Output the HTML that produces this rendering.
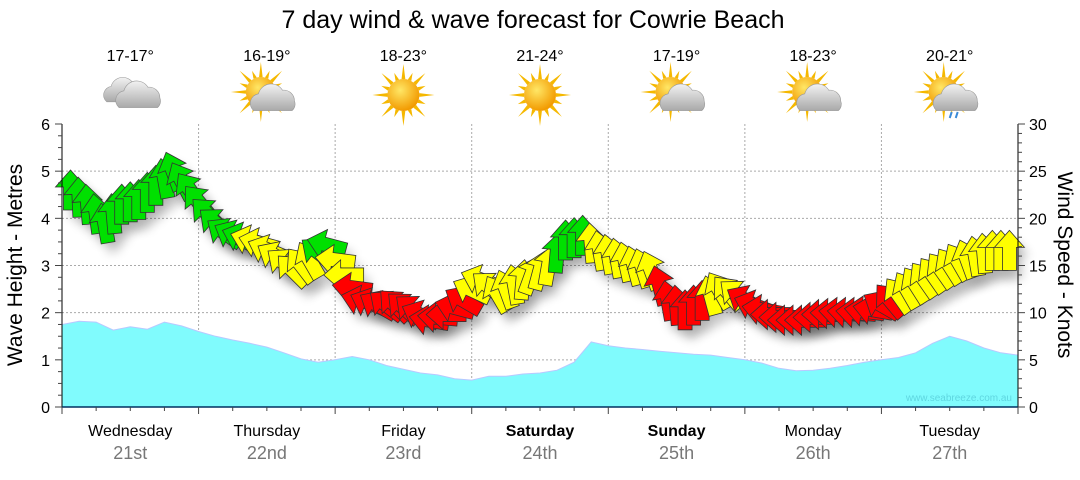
<!DOCTYPE html>
<html><head><meta charset="utf-8"><style>
body{margin:0;background:#fff;}
svg text{font-family:"Liberation Sans","DejaVu Sans",sans-serif;}
</style></head><body>
<svg id="c" width="1080" height="475" xmlns="http://www.w3.org/2000/svg">
<defs>
<radialGradient id="sun" cx="40%" cy="35%" r="65%"><stop offset="0" stop-color="#ffe766"/><stop offset="1" stop-color="#f29a00"/></radialGradient>
<linearGradient id="cloud" x1="0" y1="0" x2="0" y2="1"><stop offset="0" stop-color="#f2f2f2"/><stop offset="1" stop-color="#a9a9a9"/></linearGradient>
<filter id="sh" x="-50%" y="-50%" width="200%" height="200%"><feGaussianBlur stdDeviation="5"/></filter>
</defs>
<text x="533" y="28" font-size="25" text-anchor="middle" fill="#000">7 day wind &amp; wave forecast for Cowrie Beach</text>
<g id="grid"></g>
<g id="wave"></g>
<g id="shadows"></g>
<g id="arrows"></g>
<g id="axes"></g>
<g id="icons"></g>
<text x="1012" y="401" font-size="10" text-anchor="end" fill="#5fd6e0">www.seabreeze.com.au</text>
<text transform="translate(22,265) rotate(-90)" font-size="21" text-anchor="middle">Wave Height - Metres</text>
<text transform="translate(1058,265) rotate(90)" font-size="21" text-anchor="middle">Wind Speed - Knots</text>
</svg>
<script>
const days=["Wednesday","Thursday","Friday","Saturday","Sunday","Monday","Tuesday"];
const dates=["21st","22nd","23rd","24th","25th","26th","27th"];
const temps=["17-17°","16-19°","18-23°","21-24°","17-19°","18-23°","20-21°"];
const icons=["cloud","partly","sun","sun","partly","partly","rain"];
const waveHeights=[1.75,1.82,1.8,1.63,1.7,1.65,1.8,1.72,1.6,1.5,1.42,1.35,1.27,1.15,1.02,0.95,1.0,1.07,1.0,0.88,0.8,0.72,0.68,0.6,0.57,0.65,0.65,0.7,0.72,0.78,0.95,1.38,1.3,1.25,1.22,1.18,1.15,1.12,1.1,1.05,1.0,0.93,0.82,0.77,0.78,0.82,0.88,0.95,1.0,1.05,1.15,1.35,1.5,1.4,1.25,1.15,1.1];
const windSpeeds=[23,21.5,19.5,21.5,22,23.5,25,23,20.5,18.5,18,17.4,16,14.5,15.6,17.2,14,11.3,10.8,10.8,10.3,9.2,9.8,11.3,13.5,12,13,14,15,17.7,18.2,16.6,15.8,15,14.5,11.3,10.3,11.3,12.4,11.9,10.8,9.8,9.2,9.2,9.8,10,10,10.3,11.3,12.4,13.5,14.5,15.4,16,16.6,16.6];
const windAngles=[0,-5,-10,0,0,0,-20,-35,-45,-55,-70,-75,-60,-45,-30,-75,-90,-75,-60,-45,-50,-80,-90,-60,-70,-30,-10,20,10,0,0,-10,-10,-15,-20,-10,0,0,-30,-50,-70,-90,-90,-90,-90,-85,-85,-80,-40,-30,-35,-35,-30,-10,0,0];
const windColors=["g","g","g","g","g","g","g","g","g","g","g","y","y","y","y","g","y","r","r","r","r","r","r","r","y","y","y","y","y","g","g","y","y","y","y","r","r","r","y","y","r","r","r","r","r","r","r","r","r","y","y","y","y","y","y","y"];
const waveTicks=[0,1,2,3,4,5,6];
const windTicks=[0,5,10,15,20,25,30];

const X0=62,X1=1018,Y0=407,Y1=124,NS="http://www.w3.org/2000/svg";
const dayW=(X1-X0)/7;
const xT=t=>X0+t*(X1-X0)/56;
const yW=m=>Y0-m*(Y0-Y1)/6;
const yK=k=>Y0-k*(Y0-Y1)/30;
function el(tag,attrs,parent){const e=document.createElementNS(NS,tag);for(const k in attrs)e.setAttribute(k,attrs[k]);parent.appendChild(e);return e;}
const grid=document.getElementById('grid'),axes=document.getElementById('axes');
waveTicks.forEach(v=>{if(v>0&&v<6){const l=el('line',{x1:X0,x2:X1,y1:yW(v),y2:yW(v),stroke:'#aaa','stroke-dasharray':'2,2'},grid);

}});
for(let d=1;d<7;d++){const l=el('line',{x1:X0+d*dayW,x2:X0+d*dayW,y1:Y1,y2:Y0,stroke:'#aaa','stroke-dasharray':'2,2'},grid);

}
let d='M'+xT(0)+','+Y0;
waveHeights.forEach((v,i)=>{d+=' L'+xT(i).toFixed(1)+','+yW(v).toFixed(1);});
d+=' L'+xT(56)+','+Y0+' Z';
const wa=el('path',{d:d,fill:'#80fbfd',stroke:'#b8c8ff','stroke-width':1},document.getElementById('wave'));


const colMap={g:'#00e000',y:'#ffff00',r:'#ff0000'};
const ap='M0,-20 L15,-3 L7,-3 L7,20 L-7,20 L-7,-3 L-15,-3 Z';
const sg=document.getElementById('shadows'),ag=document.getElementById('arrows');
function drawArrow(cx,cy,ang,col){
  const s=el('path',{d:ap,fill:'#000',opacity:0.2,filter:'url(#sh)',transform:`translate(${cx+6},${cy+9}) rotate(${ang})`},sg);
  
  
  const a=el('path',{d:ap,fill:colMap[col],stroke:'#333','stroke-width':0.8,transform:`translate(${cx},${cy}) rotate(${ang})`},ag);
  
  
}
windSpeeds.forEach((k,i)=>{
  drawArrow(xT(i)+8.5,yK(k),windAngles[i],windColors[i]);
  if(i<windSpeeds.length-1){ // intermediate hourly arrow between readings
    const k2=(k+windSpeeds[i+1])/2,a2=(windAngles[i]+windAngles[i+1])/2;
    drawArrow(xT(i+0.5)+8.5,yK(k2),a2,windColors[i+1]);
  }
});
el('line',{x1:X0,x2:X0,y1:Y1,y2:Y0,stroke:'#000'},axes);
el('line',{x1:X1,x2:X1,y1:Y1,y2:Y0,stroke:'#000'},axes);
el('line',{x1:X0,x2:X1,y1:Y0,y2:Y0,stroke:'#003060','stroke-width':1.5},axes);
for(let v=0;v<=24;v++){const y=Y0-v*(Y0-Y1)/24;el('line',{x1:X0-(v%4==0?7:4),x2:X0,y1:y,y2:y,stroke:'#444'},axes);}
for(let v=0;v<=30;v++){const y=yK(v);el('line',{x1:X1,x2:X1+(v%5==0?7:4),y1:y,y2:y,stroke:'#444'},axes);}
for(let q=0;q<=28;q++){const x=X0+q*dayW/4;el('line',{x1:x,x2:x,y1:Y0,y2:Y0+(q%4==0?7:4),stroke:'#444'},axes);}
waveTicks.forEach(v=>{const t=el('text',{x:50,y:yW(v)+6,'font-size':16,'text-anchor':'end'},axes);t.textContent=v;

});
windTicks.forEach(v=>{const t=el('text',{x:1029,y:yK(v)+6,'font-size':16},axes);t.textContent=v;

});
days.forEach((n,i)=>{const cx=X0+(i+0.5)*dayW;
  const t=el('text',{x:cx,y:436,'font-size':16,'text-anchor':'middle','font-weight':(i==3||i==4)?'bold':'normal'},axes);t.textContent=n;
  
  
  const t2=el('text',{x:cx,y:459,'font-size':18,'text-anchor':'middle',fill:'#777'},axes);t2.textContent=dates[i];
  
  
  const t3=el('text',{x:cx,y:61,'font-size':16,'text-anchor':'middle'},axes);t3.textContent=temps[i];
  
  
});
const ig=document.getElementById('icons');
function sun(g,x,y,r){for(let a=0;a<16;a++){const ang=a*Math.PI/8,L=a%2?r+8:r+15;
 el('polygon',{points:`${x+Math.cos(ang-0.12)*r},${y+Math.sin(ang-0.12)*r} ${x+Math.cos(ang)*L},${y+Math.sin(ang)*L} ${x+Math.cos(ang+0.12)*r},${y+Math.sin(ang+0.12)*r}`,fill:'#f5b800'},g);}
 el('circle',{cx:x,cy:y,r:r,fill:'url(#sun)'},g);}
function cloud(g,x,y,s){el('path',{d:`M${x-16},${y+8} a8,8 0 0 1 4,-14 a11,11 0 0 1 20,-3 a9,9 0 0 1 10,9 a7,7 0 0 1 -2,8 Z`,fill:'url(#cloud)',stroke:'#999','stroke-width':0.5,transform:`translate(${x},${y}) scale(${s}) translate(${-x},${-y})`},g);}
icons.forEach((k,i)=>{const cx=X0+(i+0.5)*dayW,cy=95;
 const g=el('g',{},ig);
 
 
 if(k=='cloud'){cloud(g,cx-6,cy-2,1.1);cloud(g,cx+8,cy+3,1.2);}
 else if(k=='sun'){sun(g,cx,cy,16);}
 else {sun(g,cx-6,cy-3,15);cloud(g,cx+6,cy+6,1.2);
  if(k=='rain'){el('path',{d:`M${cx+2},${cy+17} l-2,6 M${cx+8},${cy+17} l-2,6`,stroke:'#3a8ad8','stroke-width':2},g);}}
});
</script>
</body></html>
